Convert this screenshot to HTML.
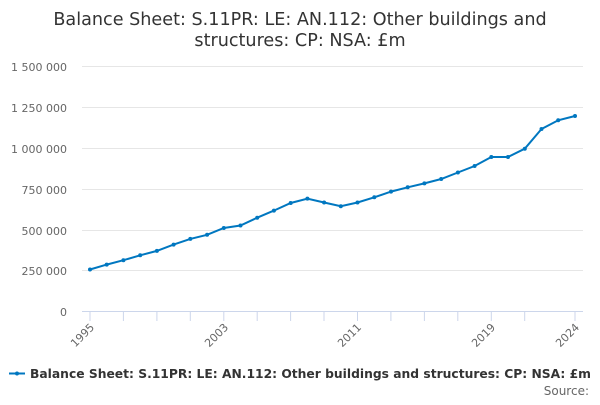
<!DOCTYPE html>
<html><head><meta charset="utf-8"><style>
body{margin:0;background:#fff;width:600px;height:400px;overflow:hidden;font-family:"Liberation Sans","DejaVu Sans",sans-serif}
</style></head><body>
<svg width="600" height="400" xmlns="http://www.w3.org/2000/svg" font-family="DejaVu Sans, Liberation Sans, sans-serif">
<text x="300" y="25" text-anchor="middle" font-size="17.6" fill="#333">Balance Sheet: S.11PR: LE: AN.112: Other buildings and</text>
<text x="300" y="46" text-anchor="middle" font-size="17.6" fill="#333">structures: CP: NSA: £m</text>
<g stroke="#e6e6e6" stroke-width="1">
<line x1="82" x2="583" y1="66.5" y2="66.5"/><line x1="82" x2="583" y1="107.5" y2="107.5"/>
<line x1="82" x2="583" y1="148.5" y2="148.5"/><line x1="82" x2="583" y1="189.5" y2="189.5"/>
<line x1="82" x2="583" y1="230.5" y2="230.5"/><line x1="82" x2="583" y1="270.5" y2="270.5"/>
</g>
<line x1="82" x2="583" y1="311.5" y2="311.5" stroke="#ccd6eb"/>
<g stroke="#ccd6eb"><line x1="90" x2="90" y1="311" y2="321"/><line x1="123.4" x2="123.4" y1="311" y2="321"/><line x1="156.9" x2="156.9" y1="311" y2="321"/><line x1="190.3" x2="190.3" y1="311" y2="321"/><line x1="223.8" x2="223.8" y1="311" y2="321"/><line x1="257.2" x2="257.2" y1="311" y2="321"/><line x1="290.6" x2="290.6" y1="311" y2="321"/><line x1="324" x2="324" y1="311" y2="321"/><line x1="357.5" x2="357.5" y1="311" y2="321"/><line x1="390.9" x2="390.9" y1="311" y2="321"/><line x1="424.4" x2="424.4" y1="311" y2="321"/><line x1="457.8" x2="457.8" y1="311" y2="321"/><line x1="491.3" x2="491.3" y1="311" y2="321"/><line x1="524.7" x2="524.7" y1="311" y2="321"/><line x1="575" x2="575" y1="311" y2="321"/></g>
<g font-size="11" fill="#666" text-anchor="end">
<text x="67" y="71">1 500 000</text><text x="67" y="112">1 250 000</text><text x="67" y="153">1 000 000</text>
<text x="67" y="194">750 000</text><text x="67" y="235">500 000</text><text x="67" y="275">250 000</text><text x="67" y="316">0</text>
</g>
<g font-size="11" fill="#666" text-anchor="end">
<text transform="translate(95,328) rotate(-45)">1995</text>
<text transform="translate(229,328) rotate(-45)">2003</text>
<text transform="translate(362,328) rotate(-45)">2011</text>
<text transform="translate(496,328) rotate(-45)">2019</text>
<text transform="translate(580,328) rotate(-45)">2024</text>
</g>
<polyline fill="none" stroke="#0077c0" stroke-width="2" points="90,269.5 106.7,264.6 123.4,260.2 140.2,255.3 156.9,250.9 173.6,244.6 190.3,238.9 207.1,234.8 223.8,228 240.5,225.5 257.2,217.7 273.9,210.6 290.7,203 307.4,198.6 324.1,202.5 340.8,206.2 357.5,202.5 374.3,197.3 391,191.6 407.7,187.3 424.4,183.4 441.2,179 457.9,172.5 474.6,166 491.3,157 508,157 524.8,148.7 541.5,129 558.2,120.3 575,116"/>
<g fill="#0077c0">
<circle cx="90" cy="269.5" r="2"/><circle cx="106.7" cy="264.6" r="2"/><circle cx="123.4" cy="260.2" r="2"/><circle cx="140.2" cy="255.3" r="2"/><circle cx="156.9" cy="250.9" r="2"/><circle cx="173.6" cy="244.6" r="2"/><circle cx="190.3" cy="238.9" r="2"/><circle cx="207.1" cy="234.8" r="2"/><circle cx="223.8" cy="228" r="2"/><circle cx="240.5" cy="225.5" r="2"/><circle cx="257.2" cy="217.7" r="2"/><circle cx="273.9" cy="210.6" r="2"/><circle cx="290.7" cy="203" r="2"/><circle cx="307.4" cy="198.6" r="2"/><circle cx="324.1" cy="202.5" r="2"/><circle cx="340.8" cy="206.2" r="2"/><circle cx="357.5" cy="202.5" r="2"/><circle cx="374.3" cy="197.3" r="2"/><circle cx="391" cy="191.6" r="2"/><circle cx="407.7" cy="187.3" r="2"/><circle cx="424.4" cy="183.4" r="2"/><circle cx="441.2" cy="179" r="2"/><circle cx="457.9" cy="172.5" r="2"/><circle cx="474.6" cy="166" r="2"/><circle cx="491.3" cy="157" r="2"/><circle cx="508" cy="157" r="2"/><circle cx="524.8" cy="148.7" r="2"/><circle cx="541.5" cy="129" r="2"/><circle cx="558.2" cy="120.3" r="2"/><circle cx="575" cy="116" r="2"/>
</g>
<line x1="9" x2="25" y1="373.5" y2="373.5" stroke="#0077c0" stroke-width="2"/>
<circle cx="17" cy="373.5" r="2" fill="#0077c0"/>
<text x="30" y="378" font-size="12.3" font-weight="bold" fill="#333">Balance Sheet: S.11PR: LE: AN.112: Other buildings and structures: CP: NSA: £m</text>
<text x="589" y="395" font-size="12" fill="#666" text-anchor="end">Source:</text>
</svg>
</body></html>
